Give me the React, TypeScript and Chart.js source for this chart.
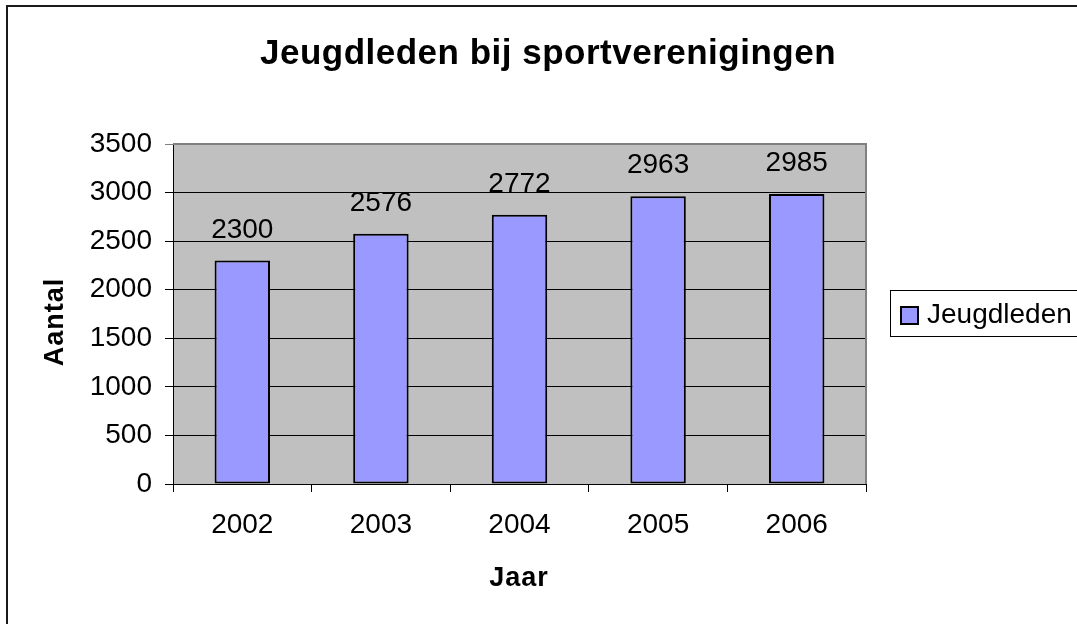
import React, { useEffect, useRef } from "react";
import { Chart, registerables } from "chart.js";

Chart.register(...registerables);

const categories = ["2002", "2003", "2004", "2005", "2006"];
const values = [2300, 2576, 2772, 2963, 2985];
const seriesName = "Jeugdleden";
const titleText = "Jeugdleden bij sportverenigingen";
const xTitle = "Jaar";
const yTitle = "Aantal";
const yMin = 0;
const yMax = 3500;
const yStep = 500;

const FONT = '"Liberation Sans", Arial, sans-serif';
const BAR_COLOR = "#9999FF";

const decorPlugin = {
  id: "decor",
  beforeDraw(chart: any) {
    const { ctx, chartArea: a } = chart;
    ctx.save();
    ctx.fillStyle = "#C0C0C0";
    ctx.fillRect(a.left, a.top, a.right - a.left, a.bottom - a.top);
    ctx.restore();
  },
  afterDraw(chart: any) {
    const { ctx, chartArea: a } = chart;
    ctx.save();
    // plot area top/right border
    ctx.strokeStyle = "#808080";
    ctx.lineWidth = 2;
    ctx.beginPath();
    ctx.moveTo(a.left, a.top);
    ctx.lineTo(a.right, a.top);
    ctx.lineTo(a.right, a.bottom);
    ctx.stroke();

    // outer frame
    ctx.strokeStyle = "#1a1a1a";
    ctx.lineWidth = 2;
    ctx.strokeRect(7, 6, 1200, 800);

    // title
    ctx.fillStyle = "#000";
    ctx.textAlign = "center";
    ctx.textBaseline = "middle";
    ctx.font = `bold 35px ${FONT}`;
    (ctx as any).letterSpacing = "0.5px";
    ctx.fillText(titleText, 548, 54);

    // x title
    ctx.font = `bold 27px ${FONT}`;
    (ctx as any).letterSpacing = "1px";
    ctx.fillText(xTitle, 519, 579);

    // y title
    ctx.save();
    ctx.translate(56, 322);
    ctx.rotate(-Math.PI / 2);
    ctx.fillText(yTitle, 0, 0);
    ctx.restore();
    (ctx as any).letterSpacing = "0px";

    // data labels
    ctx.font = `28px ${FONT}`;
    ctx.textBaseline = "alphabetic";
    const meta = chart.getDatasetMeta(0);
    meta.data.forEach((bar: any, i: number) => {
      ctx.fillText(String(values[i]), bar.x, bar.y - 23);
    });

    // legend
    ctx.strokeStyle = "#000";
    ctx.lineWidth = 1;
    ctx.strokeRect(890.5, 290.5, 300, 46);
    ctx.fillStyle = BAR_COLOR;
    ctx.fillRect(901, 307, 17, 17);
    ctx.lineWidth = 2;
    ctx.strokeRect(901, 307, 17, 17);
    ctx.fillStyle = "#000";
    ctx.textAlign = "left";
    ctx.textBaseline = "middle";
    ctx.font = `28px ${FONT}`;
    ctx.fillText(seriesName, 927, 315);
    ctx.restore();
  },
};

export default function App() {
  const ref = useRef<HTMLCanvasElement>(null);
  useEffect(() => {
    if (!ref.current) return;
    const chart = new Chart(ref.current, {
      type: "bar",
      data: {
        labels: categories,
        datasets: [
          {
            label: seriesName,
            data: values,
            backgroundColor: BAR_COLOR,
            borderColor: "#000",
            borderWidth: 2,
            borderSkipped: false,
            barPercentage: 0.4,
            categoryPercentage: 1,
          },
        ],
      },
      options: {
        animation: false,
        responsive: false,
        devicePixelRatio: 1,
        layout: { padding: { left: 83, top: 144, right: 211, bottom: 80 } },
        plugins: {
          legend: { display: false },
          title: { display: false },
          tooltip: { enabled: false },
        },
        scales: {
          x: {
            type: "category",
            offset: true,
            afterFit: (s: any) => {
              s.height = 60;
            },
            grid: {
              offset: true,
              drawOnChartArea: false,
              drawTicks: true,
              tickLength: 8,
              color: "#000",
            },
            border: { display: true, color: "#000", width: 1 },
            ticks: {
              color: "#000",
              padding: 16,
              font: { family: FONT, size: 28 },
            },
          },
          y: {
            min: yMin,
            max: yMax,
            afterFit: (s: any) => {
              s.width = 90;
            },
            ticks: {
              stepSize: yStep,
              color: "#000",
              padding: 13,
              font: { family: FONT, size: 28 },
              callback: (v: any) => String(v),
            },
            grid: {
              color: (c: any) => (c.tick && c.tick.value === yMax ? "#808080" : "#000"),
              lineWidth: 1,
              drawTicks: true,
              tickLength: 8,
            },
            border: { display: true, color: "#000", width: 1 },
          },
        },
      },
      plugins: [decorPlugin],
    });
    return () => chart.destroy();
  }, []);
  return (
    <div style={{ position: "absolute", left: 0, top: 0, width: 1077, height: 624, background: "#fff" }}>
      <canvas ref={ref} width={1077} height={624} style={{ width: 1077, height: 624, display: "block" }} />
    </div>
  );
}
